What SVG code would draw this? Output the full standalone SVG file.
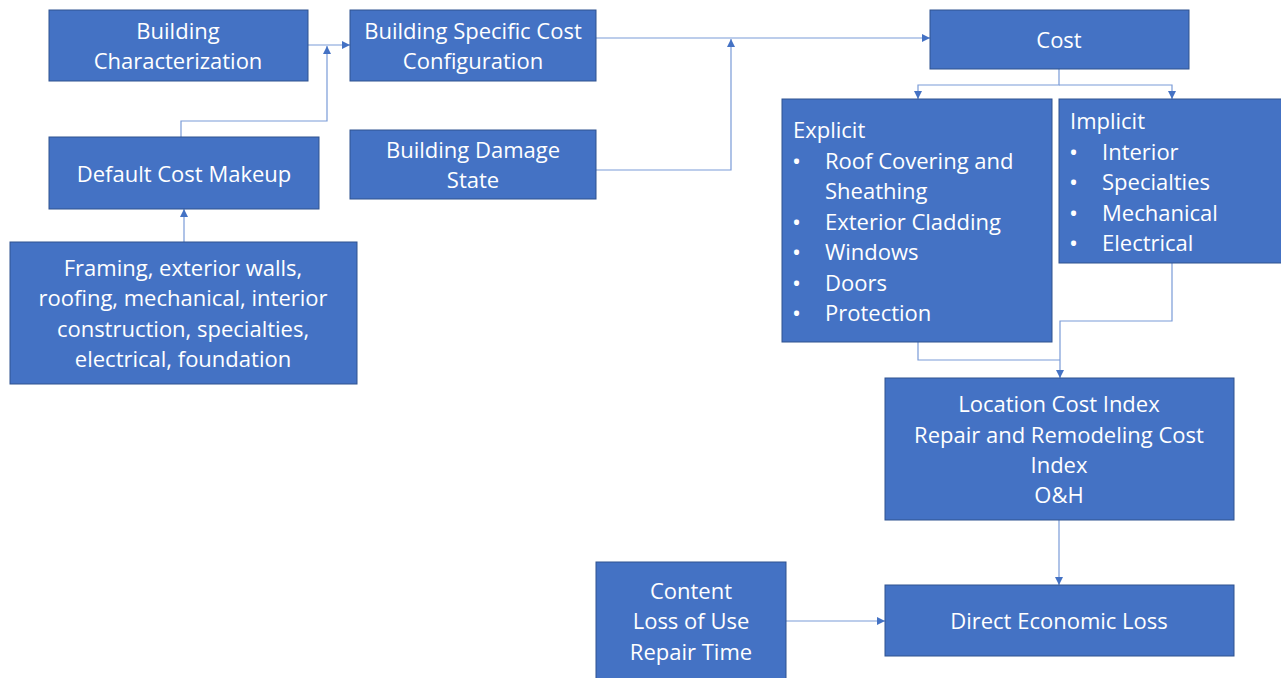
<svg xmlns="http://www.w3.org/2000/svg" width="1281" height="678" viewBox="0 0 1281 678">
<style>
.box{fill:#4472C4;stroke:#2F528F;stroke-width:1}
.t{font-family:"Open Sans","Noto Sans","Liberation Sans",sans-serif;font-size:22px;fill:#fff;dominant-baseline:central}
.c{text-anchor:middle}
.b{font-size:24px}
.ln{fill:none;stroke:#7A9BD8;stroke-width:1.2}
</style>
<defs>
<marker id="ah" viewBox="0 0 10 10" refX="10" refY="5" markerWidth="8" markerHeight="8" markerUnits="userSpaceOnUse" orient="auto">
<path d="M0,0L10,5L0,10z" fill="#4472C4"/>
</marker>
</defs>
<rect width="1281" height="678" fill="#fff"/>
<g id="connectors">
<path class="ln" d="M308,45H350" marker-end="url(#ah)"/>
<path class="ln" d="M181,137V121H327V46" marker-end="url(#ah)"/>
<path class="ln" d="M184,242V209" marker-end="url(#ah)"/>
<path class="ln" d="M596,38H930" marker-end="url(#ah)"/>
<path class="ln" d="M596,170H731V39" marker-end="url(#ah)"/>
<path class="ln" d="M1059,69V85H918V99" marker-end="url(#ah)"/>
<path class="ln" d="M1059,85H1172V99" marker-end="url(#ah)"/>
<path class="ln" d="M918,342V360H1060"/>
<path class="ln" d="M1172,263V321H1060V378" marker-end="url(#ah)"/>
<path class="ln" d="M1059,520V585" marker-end="url(#ah)"/>
<path class="ln" d="M786,621H885" marker-end="url(#ah)"/>
</g>
<g id="building-characterization">
<rect class="box" x="49" y="10" width="259" height="71"/>
<text class="t c" x="178" y="30">Building</text>
<text class="t c" x="178" y="60">Characterization</text>
</g>
<g id="building-specific">
<rect class="box" x="350" y="10" width="246" height="71"/>
<text class="t c" x="473" y="30">Building Specific Cost</text>
<text class="t c" x="473" y="60">Configuration</text>
</g>
<g id="default-cost">
<rect class="box" x="49" y="137" width="270" height="72"/>
<text class="t c" x="184" y="173">Default Cost Makeup</text>
</g>
<g id="damage-state">
<rect class="box" x="350" y="130" width="246" height="69"/>
<text class="t c" x="473" y="149">Building Damage</text>
<text class="t c" x="473" y="179">State</text>
</g>
<g id="framing">
<rect class="box" x="10" y="242" width="347" height="142"/>
<text class="t c" x="183" y="267">Framing, exterior walls,</text>
<text class="t c" x="183" y="297">roofing, mechanical, interior</text>
<text class="t c" x="183" y="328">construction, specialties,</text>
<text class="t c" x="183" y="358">electrical, foundation</text>
</g>
<g id="cost">
<rect class="box" x="930" y="10" width="259" height="59"/>
<text class="t c" x="1059" y="39">Cost</text>
</g>
<g id="explicit">
<rect class="box" x="782" y="99" width="270" height="243"/>
<text class="t" x="793" y="129">Explicit</text>
<text class="t b" x="792" y="160">•</text><text class="t" x="825" y="160">Roof Covering and</text>
<text class="t" x="825" y="190">Sheathing</text>
<text class="t b" x="792" y="221">•</text><text class="t" x="825" y="221">Exterior Cladding</text>
<text class="t b" x="792" y="251">•</text><text class="t" x="825" y="251">Windows</text>
<text class="t b" x="792" y="282">•</text><text class="t" x="825" y="282">Doors</text>
<text class="t b" x="792" y="312">•</text><text class="t" x="825" y="312">Protection</text>
</g>
<g id="implicit">
<rect class="box" x="1059" y="99" width="223" height="164"/>
<text class="t" x="1070" y="120">Implicit</text>
<text class="t b" x="1069" y="151">•</text><text class="t" x="1102" y="151">Interior</text>
<text class="t b" x="1069" y="181">•</text><text class="t" x="1102" y="181">Specialties</text>
<text class="t b" x="1069" y="212">•</text><text class="t" x="1102" y="212">Mechanical</text>
<text class="t b" x="1069" y="242">•</text><text class="t" x="1102" y="242">Electrical</text>
</g>
<g id="location-index">
<rect class="box" x="885" y="378" width="349" height="142"/>
<text class="t c" x="1059" y="403">Location Cost Index</text>
<text class="t c" x="1059" y="434">Repair and Remodeling Cost</text>
<text class="t c" x="1059" y="464">Index</text>
<text class="t c" x="1059" y="494">O&amp;H</text>
</g>
<g id="direct-loss">
<rect class="box" x="885" y="585" width="349" height="71"/>
<text class="t c" x="1059" y="620">Direct Economic Loss</text>
</g>
<g id="content">
<rect class="box" x="596" y="562" width="190" height="120"/>
<text class="t c" x="691" y="590">Content</text>
<text class="t c" x="691" y="620">Loss of Use</text>
<text class="t c" x="691" y="651">Repair Time</text>
</g>
</svg>
